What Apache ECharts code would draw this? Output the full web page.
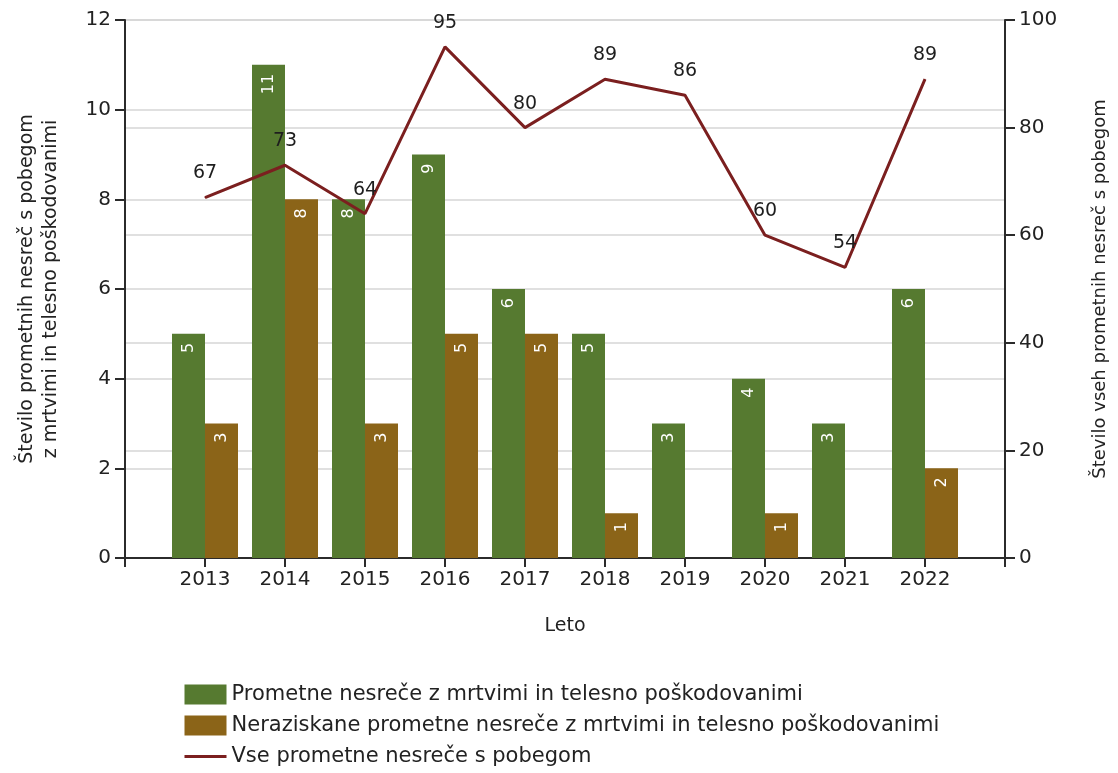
<!DOCTYPE html>
<html>
<head>
<meta charset="utf-8">
<script src="https://cdn.jsdelivr.net/npm/echarts@6/dist/echarts.min.js"></script>
<style>
  html, body { margin: 0; padding: 0; background: #ffffff; }
  #chart { width: 1118px; height: 773px; }
</style>
</head>
<body>
<div id="chart"></div>
<script>
// Years shown on the category axis
const years = ['2013', '2014', '2015', '2016', '2017', '2018', '2019', '2020', '2021', '2022'];
// Accidents with dead and injured (left axis)
const injuryAccidents = [5, 11, 8, 9, 6, 5, 3, 4, 3, 6];
// Unsolved accidents with dead and injured (left axis); null = none
const unsolvedAccidents = [3, 8, 3, 5, 5, 1, null, 1, null, 2];
// All hit-and-run accidents (right axis)
const allHitAndRun = [67, 73, 64, 95, 80, 89, 86, 60, 54, 89];

const seriesNames = [
  'Prometne nesreče z mrtvimi in telesno poškodovanimi',
  'Neraziskane prometne nesreče z mrtvimi in telesno poškodovanimi',
  'Vse prometne nesreče s pobegom'
];

// An empty slot on each side keeps the first and last year away from the axis ends
const pad = arr => [null].concat(arr, [null]);
const axisCategories = [''].concat(years, ['']);

const FONT = 'DejaVu Sans';
const TEXT = '#222222';
const LINE_RED = '#7b1f1f';
const axisLineStyle = { color: '#2b2b2b', width: 2 };
const gridLine = { show: true, lineStyle: { color: '#d6d6d6', width: 1.5 } };

const barLabel = {
  show: true,
  position: 'insideTop',
  rotate: 90,
  align: 'right',
  verticalAlign: 'middle',
  distance: 9,
  color: '#ffffff',
  fontFamily: FONT,
  fontSize: 16
};

const chart = echarts.init(document.getElementById('chart'), null, { renderer: 'canvas' });

chart.setOption({
  animation: false,
  backgroundColor: '#ffffff',
  textStyle: { fontFamily: FONT },
  grid: { left: 125, right: 113, top: 20, bottom: 215, containLabel: false, outerBoundsMode: 'none' },
  legend: {
    orient: 'vertical',
    left: 178,
    top: 679,
    itemWidth: 42,
    itemHeight: 20,
    itemGap: 10,
    textStyle: { fontFamily: FONT, fontSize: 21, color: TEXT },
    data: [
      { name: seriesNames[0], icon: 'rect' },
      { name: seriesNames[1], icon: 'rect' },
      { name: seriesNames[2], itemStyle: { opacity: 0 }, lineStyle: { width: 3, color: LINE_RED } }
    ]
  },
  xAxis: {
    type: 'category',
    data: axisCategories,
    boundaryGap: false,
    name: 'Leto',
    nameLocation: 'middle',
    nameGap: 59,
    nameTextStyle: { fontFamily: FONT, fontSize: 19, color: TEXT },
    axisLine: { lineStyle: axisLineStyle },
    axisTick: { show: true, length: 9, interval: 0, lineStyle: axisLineStyle },
    axisLabel: { interval: 0, margin: 12, fontFamily: FONT, fontSize: 20, color: TEXT },
    splitLine: { show: false }
  },
  yAxis: [
    {
      type: 'value',
      min: 0,
      max: 12,
      interval: 2,
      position: 'left',
      name: 'Število prometnih nesreč s pobegom\nz mrtvimi in telesno poškodovanimi',
      nameLocation: 'middle',
      nameRotate: 90,
      nameGap: 62,
      nameTextStyle: { fontFamily: FONT, fontSize: 19, color: TEXT, lineHeight: 24 },
      axisLine: { show: true, lineStyle: axisLineStyle },
      axisTick: { show: true, length: 10, lineStyle: axisLineStyle },
      axisLabel: { margin: 14, fontFamily: FONT, fontSize: 20, color: TEXT },
      splitLine: gridLine
    },
    {
      type: 'value',
      min: 0,
      max: 100,
      interval: 20,
      position: 'right',
      name: 'Število vseh prometnih nesreč s pobegom',
      nameLocation: 'middle',
      nameRotate: 90,
      nameGap: 86,
      nameTextStyle: { fontFamily: FONT, fontSize: 18, color: TEXT },
      axisLine: { show: true, lineStyle: axisLineStyle },
      axisTick: { show: true, length: 10, lineStyle: axisLineStyle },
      axisLabel: { margin: 14, fontFamily: FONT, fontSize: 20, color: TEXT },
      splitLine: gridLine
    }
  ],
  series: [
    {
      name: seriesNames[0],
      type: 'bar',
      yAxisIndex: 0,
      data: pad(injuryAccidents),
      barWidth: 33,
      barGap: '0%',
      itemStyle: { color: '#567a30' },
      label: barLabel
    },
    {
      name: seriesNames[1],
      type: 'bar',
      yAxisIndex: 0,
      data: pad(unsolvedAccidents),
      barWidth: 33,
      barGap: '0%',
      itemStyle: { color: '#8b6418' },
      label: barLabel
    },
    {
      name: seriesNames[2],
      type: 'line',
      yAxisIndex: 1,
      data: pad(allHitAndRun),
      symbol: 'circle',
      symbolSize: 1,
      showSymbol: true,
      z: 5,
      lineStyle: { color: LINE_RED, width: 3 },
      itemStyle: { color: LINE_RED },
      label: {
        show: true,
        position: 'top',
        distance: 14,
        color: '#1e1e1e',
        fontFamily: FONT,
        fontSize: 19
      }
    }
  ]
});
</script>
</body>
</html>
